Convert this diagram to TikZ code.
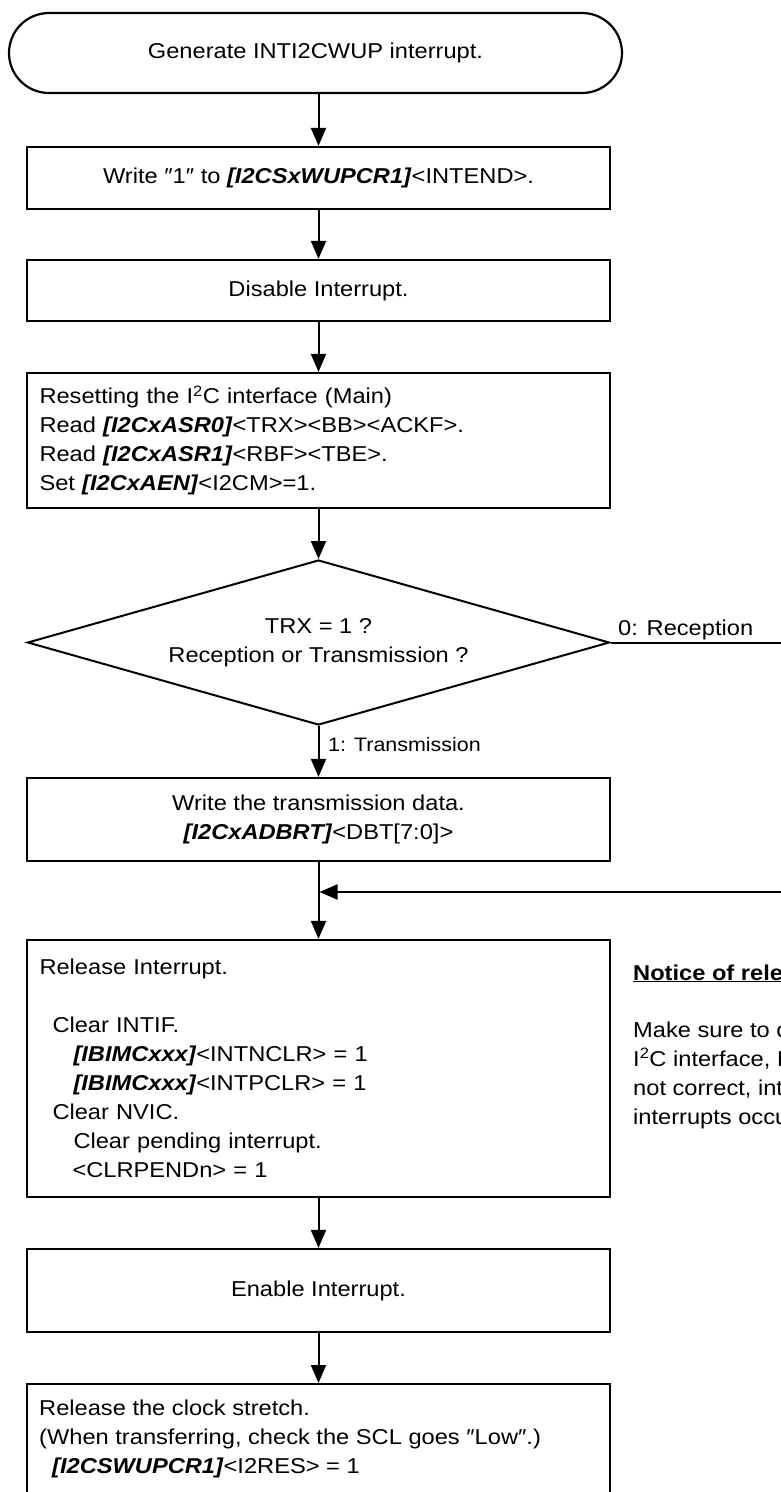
\documentclass[tikz,border=0pt]{standalone}
\usepackage{fontspec}
\setmainfont{Liberation Sans}[FakeStretch=1.1]
\usetikzlibrary{arrows.meta,shapes.geometric}
\newcommand\regname[1]{\textbf{\textit{#1}}}
\begin{document}
\begin{tikzpicture}[x=1pt,y=-1pt,
  every node/.style={font=\fontsize{21.5}{29}\selectfont, inner sep=0pt},
  box/.style={draw, line width=2.2pt, minimum width=583pt},
  flow/.style={line width=2pt, -{Triangle[length=18pt,width=15pt]}},
  plain/.style={line width=2pt},
  small/.style={font=\fontsize{19.5}{24}\selectfont}
]
\useasboundingbox (0,0) rectangle (781,1492);

\node[box, rounded corners=40pt, minimum width=613pt, minimum height=80pt] (start) at (315.5,53) {Generate INTI2CWUP interrupt.};
\node[box, minimum height=62pt] (w1) at (318.5,178) {Write ″1″ to \regname{[I2CSxWUPCR1]}<INTEND>.};
\node[box, minimum height=61pt] (dis) at (318.5,290.5) {Disable Interrupt.};
\node[box, minimum height=135pt, text width=558pt, align=left] (rst) at (318.5,440.5)
  {Resetting the I\textsuperscript{2}C interface (Main)\\Read \regname{[I2CxASR0]}<TRX><BB><ACKF>.\\Read \regname{[I2CxASR1]}<RBF><TBE>.\\Set \regname{[I2CxAEN]}<I2CM>=1.};
\node[draw, line width=2pt, diamond, aspect=3.53, minimum width=582pt, minimum height=165pt, align=center] (trx) at (318.5,642.5)
  {TRX = 1 ?\\Reception or Transmission ?};
\node[box, minimum height=83pt, align=center] (wtd) at (318.5,819.5)
  {Write the transmission data.\\\regname{[I2CxADBRT]}<DBT[7:0]>};
\node[box, minimum height=257pt, text width=558pt, align=left] (rel) at (318.5,1068.5)
  {Release Interrupt.\\[29pt]\hspace*{13pt}Clear INTIF.\\\hspace*{34pt}\regname{[IBIMCxxx]}<INTNCLR> = 1\\\hspace*{34pt}\regname{[IBIMCxxx]}<INTPCLR> = 1\\\hspace*{13pt}Clear NVIC.\\\hspace*{34pt}Clear pending interrupt.\\\hspace*{33pt}<CLRPENDn> = 1};
\node[box, minimum height=83pt] (en) at (318.5,1290.5) {Enable Interrupt.};
\node[box, minimum height=130pt, anchor=north] (clk) at (318.5,1383) {};
\node[anchor=north west, align=left] (clktxt) at (39,1400)
  {Release the clock stretch.\\(When transferring, check the SCL goes ″Low″.)\\\hspace*{13pt}\regname{[I2CSWUPCR1]}<I2RES> = 1};

\draw[flow] (w1.north |- start.south) -- (w1.north);
\draw[flow] (w1) -- (dis);
\draw[flow] (dis) -- (rst);
\draw[flow] (rst) -- (trx);
\draw[flow] (trx) -- (wtd);
\node[small, anchor=west] (tlbl) at (328,745) {1: Transmission};
\coordinate (rout) at (781,642.5);
\draw[plain] (trx.east) -- (rout);
\node[anchor=base west] (rlbl) at (618,635.7) {0: Reception};
\draw[flow] (wtd) -- (rel);
\coordinate (fbin) at (781,892);
\coordinate (fbtip) at (319.5,892);
\draw[flow] (fbin) -- (fbtip);
\draw[flow] (rel) -- (en);
\draw[flow] (en) -- (clk);

\node[anchor=base west] (nt) at (633,980) {\underline{\textbf{Notice of rele}}};
\node[anchor=base west] (n1) at (633,1037.5) {Make sure to c};
\node[anchor=base west] (n2) at (633,1066.5) {I\textsuperscript{2}C interface, I};
\node[anchor=base west] (n3) at (633,1095.5) {not correct, int};
\node[anchor=base west] (n4) at (633,1124.5) {interrupts occu};
\end{tikzpicture}
\end{document}
